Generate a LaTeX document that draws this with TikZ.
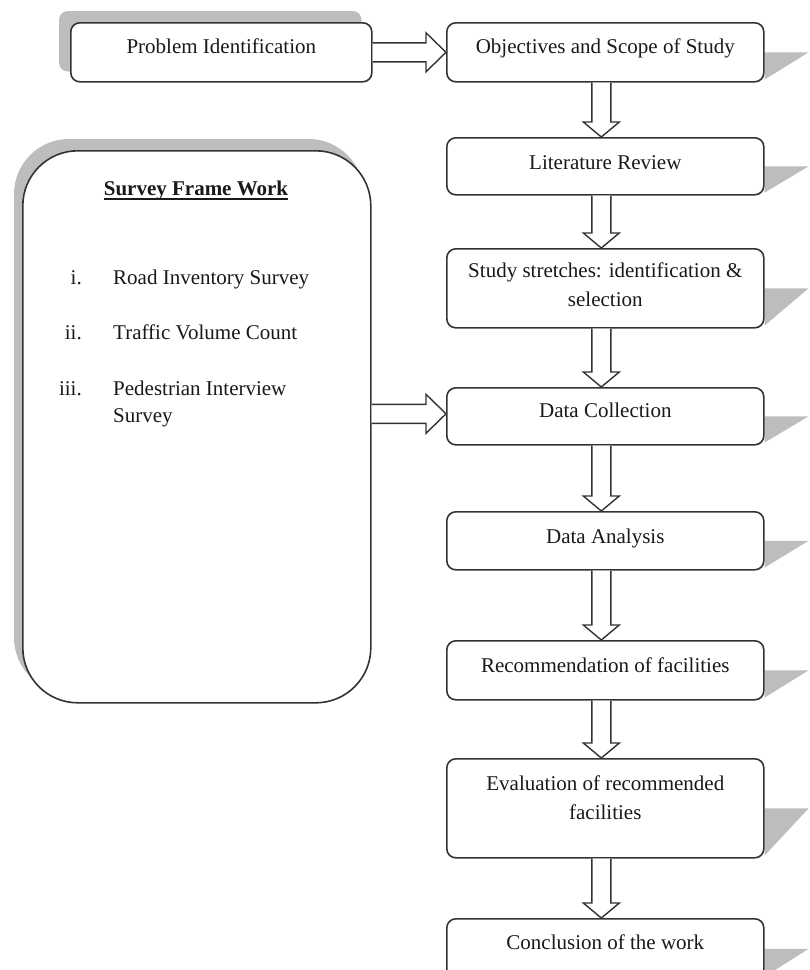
\documentclass[tikz,border=0pt]{standalone}
\usepackage{fontspec}
\setmainfont{Liberation Serif}
\usetikzlibrary{calc}
\pgfdeclarelayer{bg}
\pgfsetlayers{bg,main}
\colorlet{shadowgray}{black!26}
\colorlet{linegray}{black!80}
\newcommand\mlines[1]{\begin{tabular}[t]{@{}c@{}}#1\end{tabular}}
% vertical hollow block arrow from bottom of #1 to top of #2
\newcommand\vconn[2]{%
  \draw[barrow] ($(#1.south)+(-13.5,0)$) -- ($(#2.north)+(-13.5,-15)$)
    -- ($(#2.north)+(-22,-15)$) -- ($(#2.north)+(-4,0)$)
    -- ($(#2.north)+(14,-15)$) -- ($(#2.north)+(5.5,-15)$)
    -- ($(#1.south)+(5.5,0)$);}
% horizontal hollow block arrow from right of #1 to left of #2, offset #3
\newcommand\hconn[3]{%
  \draw[barrow] ($(#1.east |- #2.west)+(0,#3-9.5)$) -- ($(#2.west)+(-20,#3-9.5)$)
    -- ($(#2.west)+(-20,#3-19.5)$) -- ($(#2.west)+(0,#3)$)
    -- ($(#2.west)+(-20,#3+19.5)$) -- ($(#2.west)+(-20,#3+9.5)$)
    -- ($(#1.east |- #2.west)+(0,#3+9.5)$);}
\begin{document}
\begin{tikzpicture}[x=1pt,y=-1pt,
  font=\fontsize{21}{29}\selectfont,
  rbox/.style={draw=linegray, line width=1.6pt, fill=white, rounded corners=9pt,
    minimum width=317pt, inner sep=0pt, anchor=north west},
  txt/.style={anchor=base, inner sep=0pt, text=black!90},
  barrow/.style={draw=linegray, line width=1.4pt, fill=white, line join=miter},
  item/.style={inner sep=0pt, text=black!90}]
\useasboundingbox (0,0) rectangle (810,970);

% left boxes
\node[rbox, minimum width=301pt, minimum height=59pt] (p) at (70,22) {};
\node[txt] (pt) at ($(p.north)+(0,31)$) {Problem Identification};

\node[rbox, rounded corners=55pt, minimum width=348pt, minimum height=552pt] (s) at (22,150) {};
\node[txt, font=\fontsize{21}{29}\selectfont\bfseries] (title) at (196,195) {Survey Frame Work};
\draw[line width=1.3pt, black!90] ($(title.base west)+(0,4)$) -- ($(title.base east)+(0,4)$);
\node[item, anchor=base east] (n1) at (82,284) {i.};
\node[item, anchor=base west] (i1) at (113,284) {Road Inventory Survey};
\node[item, anchor=base east] (n2) at (82,339) {ii.};
\node[item, anchor=base west] (i2) at (113,339) {Traffic Volume Count};
\node[item, anchor=base east] (n3) at (82,395) {iii.};
\node[item, anchor=base west] (i3) at (113,395) {\fontsize{21}{27}\selectfont\parbox[t]{240pt}{Pedestrian Interview\\Survey}};

% right column
\node[rbox, minimum height=59pt] (b1) at (446,22) {};
\node[txt] (t1) at ($(b1.north)+(0,31)$) {Objectives and Scope of Study};
\node[rbox, minimum height=57pt] (b2) at (446,137) {};
\node[txt] (t2) at ($(b2.north)+(0,32)$) {Literature Review};
\node[rbox, minimum height=79pt] (b3) at (446,248) {};
\node[txt] (t3) at ($(b3.north)+(0,29)$) {\mlines{Study stretches: identification \&\\ selection}};
\node[rbox, minimum height=57pt] (b4) at (446,387) {};
\node[txt] (t4) at ($(b4.north)+(0,30)$) {Data Collection};
\node[rbox, minimum height=58pt] (b5) at (446,511) {};
\node[txt] (t5) at ($(b5.north)+(0,32)$) {Data Analysis};
\node[rbox, minimum height=59pt] (b6) at (446,640) {};
\node[txt] (t6) at ($(b6.north)+(0,32)$) {Recommendation of facilities};
\node[rbox, minimum height=99pt] (b7) at (446,758) {};
\node[txt] (t7) at ($(b7.north)+(0,32)$) {\mlines{Evaluation of recommended\\ facilities}};
\node[rbox, minimum height=60pt] (b8) at (446,918) {};
\node[txt] (t8) at ($(b8.north)+(0,31)$) {Conclusion of the work};

% shadows
\begin{pgfonlayer}{bg}
  \fill[shadowgray, rounded corners=9pt] ($(p.north west)+(-11,-11)$) rectangle ($(p.south east)+(-11,-11)$);
  \fill[shadowgray, rounded corners=55pt] ($(s.north west)+(-8,-11)$) rectangle ($(s.south east)+(-8,-11)$);
  \foreach \b in {b1,b2,b3,b4,b5,b6,b7,b8}
    \fill[shadowgray] (\b.east) -- ($(\b.east)+(44,0)$) -- ($(\b.south east)+(0,-3)$) -- cycle;
\end{pgfonlayer}

% connectors
\hconn{p}{b1}{0}
\hconn{s}{b4}{-2.5}
\vconn{b1}{b2}
\vconn{b2}{b3}
\vconn{b3}{b4}
\vconn{b4}{b5}
\vconn{b5}{b6}
\vconn{b6}{b7}
\vconn{b7}{b8}
\end{tikzpicture}
\end{document}
